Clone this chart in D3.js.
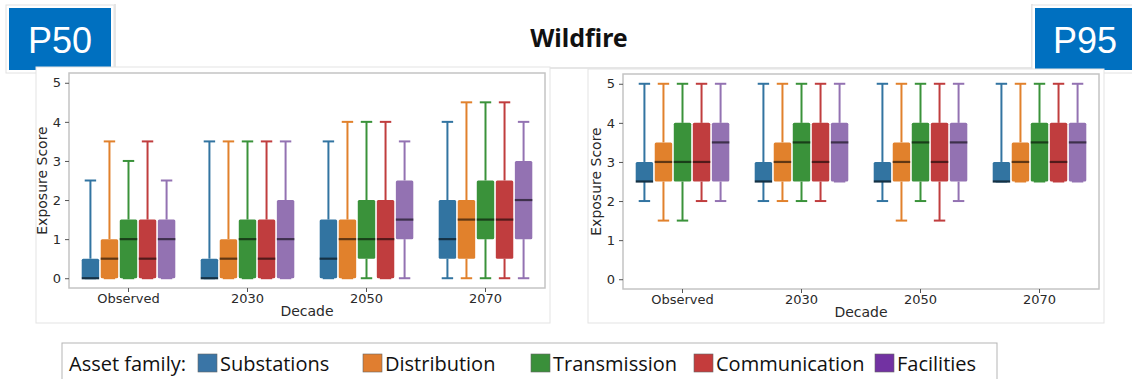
<!DOCTYPE html>
<html>
<head>
<meta charset="utf-8">
<script src="https://cdn.jsdelivr.net/npm/d3@7"></script>
<style>
  body { margin: 0; background: #fff; }
  svg { display: block; }
</style>
</head>
<body>
<div id="chart"></div>
<script>
// categories
var decades = ["Observed", "2030", "2050", "2070"];
var families = ["Substations", "Distribution", "Transmission", "Communication", "Facilities"];
var familyColors = ["#3274a1", "#e1812c", "#3a923a", "#c03d3e", "#9372b2"];
var legendColors = ["#3a75a6", "#e07e30", "#3a8f3a", "#c43c3c", "#7232a2"];
var yTicks = [0, 1, 2, 3, 4, 5];

// box stats per decade: [whisker low, Q1, median, Q3, whisker high]
var p50Substations   = [[0, 0, 0, 0.5, 2.5], [0, 0, 0, 0.5, 3.5], [0, 0, 0.5, 1.5, 3.5], [0, 0.5, 1, 2, 4]];
var p50Distribution  = [[0, 0, 0.5, 1, 3.5], [0, 0, 0.5, 1, 3.5], [0, 0, 1, 1.5, 4], [0, 0.5, 1.5, 2, 4.5]];
var p50Transmission  = [[0, 0, 1, 1.5, 3], [0, 0, 1, 1.5, 3.5], [0, 0.5, 1, 2, 4], [0, 1, 1.5, 2.5, 4.5]];
var p50Communication = [[0, 0, 0.5, 1.5, 3.5], [0, 0, 0.5, 1.5, 3.5], [0, 0, 1, 2, 4], [0, 0.5, 1.5, 2.5, 4.5]];
var p50Facilities    = [[0, 0, 1, 1.5, 2.5], [0, 0, 1, 2, 3.5], [0, 1, 1.5, 2.5, 3.5], [0, 1, 2, 3, 4]];

var p95Substations   = [[2, 2.5, 2.5, 3, 5], [2, 2.5, 2.5, 3, 5], [2, 2.5, 2.5, 3, 5], [2.5, 2.5, 2.5, 3, 5]];
var p95Distribution  = [[1.5, 2.5, 3, 3.5, 5], [2, 2.5, 3, 3.5, 5], [1.5, 2.5, 3, 3.5, 5], [2.5, 2.5, 3, 3.5, 5]];
var p95Transmission  = [[1.5, 2.5, 3, 4, 5], [2, 2.5, 3.5, 4, 5], [2, 2.5, 3.5, 4, 5], [2.5, 2.5, 3.5, 4, 5]];
var p95Communication = [[2, 2.5, 3, 4, 5], [2, 2.5, 3, 4, 5], [1.5, 2.5, 3, 4, 5], [2.5, 2.5, 3, 4, 5]];
var p95Facilities    = [[2, 2.5, 3.5, 4, 5], [2.5, 2.5, 3.5, 4, 5], [2, 2.5, 3.5, 4, 5], [2.5, 2.5, 3.5, 4, 5]];

var p50 = [p50Substations, p50Distribution, p50Transmission, p50Communication, p50Facilities];
var p95 = [p95Substations, p95Distribution, p95Transmission, p95Communication, p95Facilities];

var W = 1132, H = 379;
var svg = d3.select("#chart").append("svg")
    .attr("width", W)
    .attr("height", H);

svg.append("rect").attr("width", W).attr("height", H).attr("fill", "#fff");

// header: faint frame lines, title, P50 / P95 tags
svg.append("path")
    .attr("d", "M115,4V68H1032V4")
    .attr("fill", "none").attr("stroke", "#dedede").attr("stroke-width", 1.5);

svg.append("text")
    .attr("x", 579).attr("y", 47)
    .attr("text-anchor", "middle")
    .style("font-family", "'Noto Sans', sans-serif")
    .style("font-weight", "bold")
    .style("font-size", "25px")
    .attr("fill", "#111")
    .text("Wildfire");

function tag(x, w, label) {
    svg.append("rect")
        .attr("x", x - 3).attr("y", 5).attr("width", w + 6).attr("height", 68)
        .attr("fill", "#fff").attr("stroke", "#e2e2e2");
    svg.append("rect")
        .attr("x", x).attr("y", 8).attr("width", w).attr("height", 62)
        .attr("fill", "#0070c0");
    svg.append("text")
        .attr("x", x + w / 2).attr("y", 53)
        .attr("text-anchor", "middle")
        .style("font-family", "'Liberation Sans', Arial, sans-serif")
        .style("font-size", "36px")
        .attr("fill", "#fff")
        .text(label);
}
tag(9, 102, "P50");
tag(1035, 100, "P95");

function panel(stats, frame, outer) {
    var g = svg.append("g");

    g.append("rect")
        .attr("x", outer.x).attr("y", outer.y)
        .attr("width", outer.w).attr("height", outer.h)
        .attr("fill", "#fff").attr("stroke", "#e3e3e3");

    var x = d3.scaleBand().domain(decades).range([frame.left, frame.right]).padding(0);
    var inner = d3.scaleBand().domain(families)
        .range([x.bandwidth() * 0.1, x.bandwidth() * 0.9]).padding(0);
    var y = d3.scaleLinear().domain([-0.25, 5.25]).range([frame.bottom, frame.top]);

    var font = "'DejaVu Sans', sans-serif";

    // spines
    g.append("rect")
        .attr("x", frame.left).attr("y", frame.top)
        .attr("width", frame.right - frame.left).attr("height", frame.bottom - frame.top)
        .attr("fill", "none").attr("stroke", "#c4c4c4").attr("stroke-width", 1.5);

    var yAxis = g.append("g")
        .attr("transform", "translate(" + frame.left + ",0)")
        .call(d3.axisLeft(y).tickValues(yTicks).tickFormat(d3.format("d")).tickSize(4).tickPadding(4));
    var xAxis = g.append("g")
        .attr("transform", "translate(0," + frame.bottom + ")")
        .call(d3.axisBottom(x).tickSize(4).tickPadding(2));
    [yAxis, xAxis].forEach(function(a) {
        a.select(".domain").remove();
        a.selectAll("line").attr("stroke", "#555");
        a.selectAll("text")
            .style("font-family", font)
            .style("font-size", "13px")
            .attr("fill", "#2a2a2a");
    });

    g.append("text")
        .attr("transform", "translate(" + (frame.left - 22) + "," + ((frame.top + frame.bottom) / 2) + ") rotate(-90)")
        .attr("text-anchor", "middle")
        .style("font-family", font).style("font-size", "14px")
        .attr("fill", "#2a2a2a")
        .text("Exposure Score");
    g.append("text")
        .attr("x", (frame.left + frame.right) / 2).attr("y", frame.bottom + 28)
        .attr("text-anchor", "middle")
        .style("font-family", font).style("font-size", "14px")
        .attr("fill", "#2a2a2a")
        .text("Decade");

    var boxes = [];
    families.forEach(function(f, i) {
        decades.forEach(function(d, j) {
            var s = stats[i][j];
            boxes.push({fam: f, dec: d, color: familyColors[i],
                lo: s[0], q1: s[1], med: s[2], q3: s[3], hi: s[4]});
        });
    });

    var bw = inner.bandwidth();
    var capW = bw * 0.6;
    var b = g.selectAll(".box").data(boxes).enter().append("g")
        .attr("class", "box")
        .attr("transform", function(d) {
            return "translate(" + (x(d.dec) + inner(d.fam) + bw / 2) + ",0)";
        });

    // whiskers
    b.append("line")
        .attr("y1", function(d) { return y(d.q3); })
        .attr("y2", function(d) { return y(d.hi); })
        .attr("stroke", function(d) { return d.color; }).attr("stroke-width", 2);
    b.append("line")
        .attr("y1", function(d) { return y(d.q1); })
        .attr("y2", function(d) { return y(d.lo); })
        .attr("stroke", function(d) { return d.color; }).attr("stroke-width", 2);
    b.append("line")
        .attr("x1", -capW / 2).attr("x2", capW / 2)
        .attr("y1", function(d) { return y(d.hi); })
        .attr("y2", function(d) { return y(d.hi); })
        .attr("stroke", function(d) { return d.color; }).attr("stroke-width", 2);
    b.append("line")
        .attr("x1", -capW / 2).attr("x2", capW / 2)
        .attr("y1", function(d) { return y(d.lo); })
        .attr("y2", function(d) { return y(d.lo); })
        .attr("stroke", function(d) { return d.color; }).attr("stroke-width", 2);

    // boxes
    b.append("rect")
        .attr("x", -bw / 2 + 0.8)
        .attr("width", bw - 1.6)
        .attr("y", function(d) { return y(d.q3); })
        .attr("height", function(d) { return Math.max(y(d.q1) - y(d.q3), 1); })
        .attr("rx", 1.5)
        .attr("fill", function(d) { return d.color; });

    // medians
    b.append("line")
        .attr("x1", -bw / 2 + 0.8).attr("x2", bw / 2 - 0.8)
        .attr("y1", function(d) { return y(d.med); })
        .attr("y2", function(d) { return y(d.med); })
        .attr("stroke", function(d) { return d3.color(d.color).darker(2.4); })
        .attr("stroke-width", 2.2);
}

panel(p50, {left: 69, right: 545, top: 73, bottom: 288}, {x: 36, y: 67, w: 514, h: 256});
panel(p95, {left: 623, right: 1099, top: 74, bottom: 289}, {x: 588, y: 69, w: 516, h: 254});

// legend
var lg = svg.append("g");
lg.append("rect")
    .attr("x", 62).attr("y", 343).attr("width", 935).attr("height", 45)
    .attr("fill", "#fff").attr("stroke", "#b5b5b5");
var legFont = "'Open Sans', sans-serif";
lg.append("text")
    .attr("x", 69).attr("y", 371)
    .style("font-family", legFont).style("font-size", "20px")
    .attr("fill", "#111")
    .text("Asset family:");
var legX = [198, 363, 531, 694, 875];
var item = lg.selectAll(".item").data(families).enter().append("g")
    .attr("class", "item")
    .attr("transform", function(d, i) { return "translate(" + legX[i] + ",354)"; });
item.append("rect")
    .attr("width", 19).attr("height", 18)
    .attr("fill", function(d, i) { return legendColors[i]; })
    .attr("stroke", "#666").attr("stroke-width", 0.6);
item.append("text")
    .attr("x", 22).attr("y", 17)
    .style("font-family", legFont).style("font-size", "20px")
    .attr("fill", "#111")
    .text(function(d) { return d; });
</script>
</body>
</html>
